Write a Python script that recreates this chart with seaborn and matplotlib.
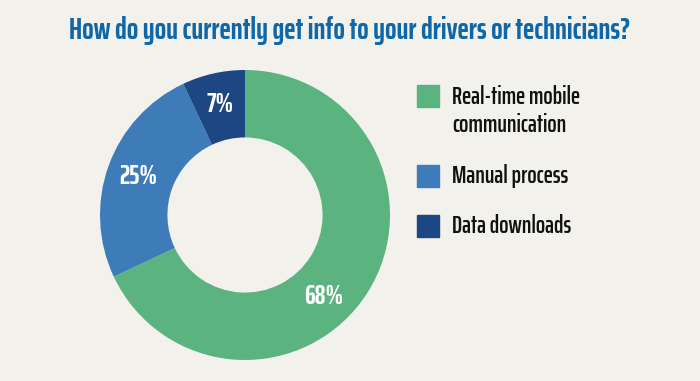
import numpy as np
import matplotlib
matplotlib.use("Agg")
import matplotlib.pyplot as plt
import matplotlib.patches as mpatches
import seaborn as sns

categories = ["Real-time mobile\ncommunication", "Manual process", "Data downloads"]
shares = [68, 25, 7]
colors = ["#5bb37f", "#3e7bb9", "#1d4783"]
title = "How do you currently get info to your drivers or technicians?"

BG = "#f2f1ec"
sns.set_theme(style="white")
plt.rcParams["font.family"] = ["Saira ExtraCondensed", "Fira Sans Extra Condensed", "DejaVu Sans"]

W, H = 700, 381
fig = plt.figure(figsize=(W / 100, H / 100), dpi=100, facecolor=BG)

# donut: center (245, 215) px, outer radius 145 px
cx, cy, r = 245, 215, 145
ax = fig.add_axes([(cx - r) / W, (H - cy - r) / H, 2 * r / W, 2 * r / H])
ax.set_facecolor(BG)
wedges, _, autotexts = ax.pie(
    shares, colors=colors, startangle=90, counterclock=False, radius=1,
    wedgeprops=dict(width=0.465, edgecolor="none"),
    autopct=lambda p: f"{p:.0f}%", pctdistance=0.78,
    textprops=dict(color="white", fontsize=19.5, fontweight="bold"))
# the big slice label sits lower right in the original
ang = np.deg2rad(-46)
autotexts[0].set_position((0.78 * np.cos(ang), 0.78 * np.sin(ang)))
ax.set_xlim(-1, 1)
ax.set_ylim(-1, 1)
ax.set_aspect("equal")
ax.axis("off")

fig.text(0.5, 1 - 39 / H, title, ha="center", va="baseline",
         fontsize=21.8, fontweight="bold", color="#0f67a8")

# legend
sq = 22
rows = [96, 176, 226]
for lab, col, yc in zip(categories, colors, rows):
    fig.patches.append(mpatches.Rectangle((417 / W, (H - yc - sq / 2) / H), sq / W, sq / H,
                                          transform=fig.transFigure, color=col))
    ty = yc + 15 if "\n" in lab else yc
    fig.text(452 / W, 1 - ty / H, lab, ha="left", va="center", fontsize=17.5,
             fontweight="semibold", color="#111111", linespacing=1.25)

fig.savefig("out.png", dpi=100, facecolor=BG)
